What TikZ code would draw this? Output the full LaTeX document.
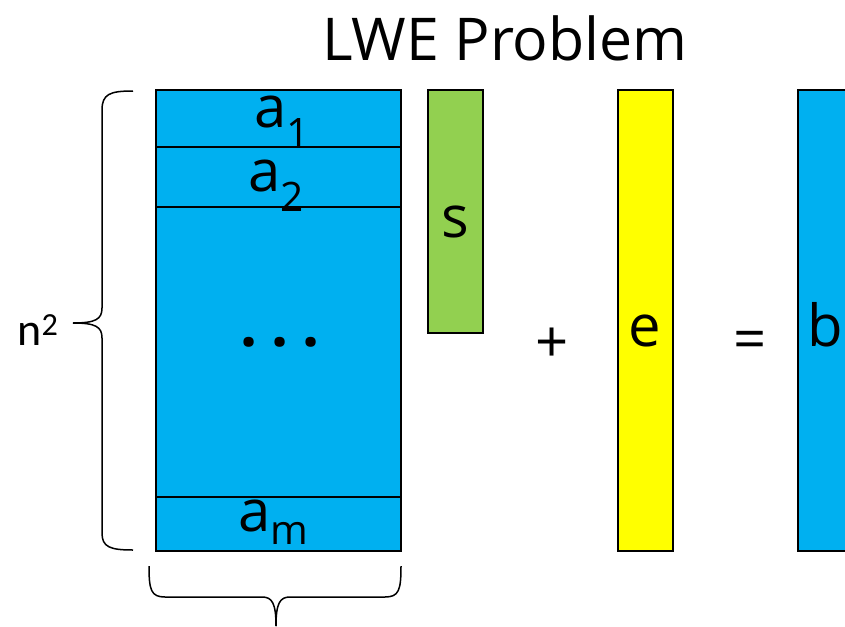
\documentclass[tikz,border=0pt]{standalone}
\usepackage{fontspec}
\setmainfont{Open Sans}
\newfontfamily\calfont{Carlito}
\definecolor{lweblue}{HTML}{00B0F0}
\definecolor{lwegreen}{HTML}{92D050}
\definecolor{lweyellow}{HTML}{FFFF00}
\tikzset{
  cell/.style={draw=black, line width=1.3pt},
  bigletter/.style={font=\fontsize{58}{62}\selectfont, inner sep=0pt},
  brace/.style={draw=black, line width=1.5pt},
}
\begin{document}
\begin{tikzpicture}[x=1pt,y=-1pt]
\useasboundingbox (0,0) rectangle (845,626);
\begin{scope}
\clip (0,0) rectangle (845,626);
% title
\node[font=\fontsize{59}{62}\selectfont, inner sep=0pt] (title) at (505,38) {LWE Problem};
% matrix A
\fill[lweblue] (156,90) rectangle (401,551);
\draw[cell] (156,90) rectangle (401,551);
\draw[cell] (156,147) -- (401,147);
\draw[cell] (156,207) -- (401,207);
\draw[cell] (156,497) -- (401,497);
\node[bigletter, anchor=base] (a1) at (282,127) {a\textsubscript{1}};
\node[bigletter, anchor=base] (a2) at (276,191) {a\textsubscript{2}};
\node[font=\bfseries\fontsize{60}{62}\selectfont, inner sep=0pt, anchor=base] (dots) at (280,346) {.\hspace{14pt}.\hspace{14pt}.};
\node[bigletter, anchor=base] (am) at (274,531) {a\textsubscript{m}};
% s
\fill[lwegreen] (428,90) rectangle (483,333);
\draw[cell] (428,90) rectangle (483,333);
\node[bigletter, anchor=base] (s) at (455,237) {s};
% plus
\node[bigletter] (plus) at (552,345) {+};
% e
\fill[lweyellow] (618,90) rectangle (673,551);
\draw[cell] (618,90) rectangle (673,551);
\node[bigletter, anchor=base] (e) at (645,346) {e};
% equals
\node[bigletter] (eq) at (750,345) {=};
% b
\fill[lweblue] (798,90) rectangle (860,551);
\draw[cell] (798,90) rectangle (860,551);
\node[bigletter, anchor=base] (b) at (825,346) {b};
% left brace
\draw[brace] (133,91) .. controls (110,91) and (102,94) .. (102,110) -- (102,308)
  .. controls (102,319) and (96,323) .. (73,323);
\draw[brace] (73,323) .. controls (96,323) and (102,327) .. (102,338) -- (102,533)
  .. controls (102,547) and (110,550) .. (133,550);
\node[font=\calfont\fontsize{46}{50}\selectfont, inner sep=0pt, anchor=base] (n2) at (38,345) {n\textsuperscript{2}};
% bottom brace
\draw[brace] (149,566) .. controls (149,590) and (151,597) .. (165,597) -- (262,597)
  .. controls (272,597) and (276,603) .. (276,626);
\draw[brace] (401,566) .. controls (401,590) and (399,597) .. (385,597) -- (290,597)
  .. controls (280,597) and (276,603) .. (276,626);
\end{scope}
\end{tikzpicture}
\end{document}
